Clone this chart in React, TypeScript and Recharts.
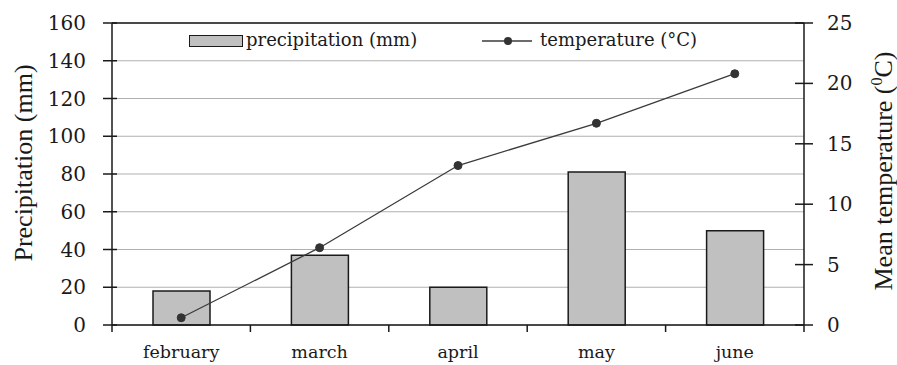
import React from "react";
import {
  ComposedChart,
  Bar,
  Line,
  XAxis,
  YAxis,
  CartesianGrid,
  ReferenceLine,
} from "recharts";

const months = ["february", "march", "april", "may", "june"];
const precipitation = [18, 37, 20, 81, 50];
const temperature = [0.6, 6.4, 13.2, 16.7, 20.8];
const precipTicks = [0, 20, 40, 60, 80, 100, 120, 140, 160];
const tempTicks = [0, 5, 10, 15, 20, 25];

const data = months.map((m, i) => ({
  month: m,
  precipitation: precipitation[i],
  temperature: temperature[i],
}));

const W = 897;
const H = 365;
const LEFT_W = 112;
const RIGHT_W = 93;
const TOP = 23;
const X_H = 40;
const PLOT_W = W - LEFT_W - RIGHT_W;

const ink = "#1a1a1a";
const tickFont = "'DejaVu Serif', serif";
const titleFont = "'Liberation Serif', 'Times New Roman', serif";

const LeftTick = (props: any) => {
  const { x, y, payload } = props;
  return (
    <g>
      <line x1={x - 9} x2={x + 5} y1={y} y2={y} stroke={ink} strokeWidth={1.5} />
      <text x={x - 26} y={y} textAnchor="end" dominantBaseline="central" fontFamily={tickFont} fontSize={20} fill={ink}>
        {payload.value}
      </text>
    </g>
  );
};

const RightTick = (props: any) => {
  const { x, y, payload } = props;
  return (
    <g>
      <line x1={x - 9} x2={x + 9} y1={y} y2={y} stroke={ink} strokeWidth={1.5} />
      <text x={x + 23} y={y} textAnchor="start" dominantBaseline="central" fontFamily={tickFont} fontSize={20} fill={ink}>
        {payload.value}
      </text>
    </g>
  );
};

const BottomTick = (props: any) => {
  const { x, y, payload, index } = props;
  const half = PLOT_W / months.length / 2;
  return (
    <g>
      <line x1={x - half} x2={x - half} y1={y} y2={y + 7} stroke={ink} strokeWidth={1.5} />
      {index === months.length - 1 && (
        <line x1={x + half} x2={x + half} y1={y} y2={y + 7} stroke={ink} strokeWidth={1.5} />
      )}
      <text x={x} y={y + 33} textAnchor="middle" fontFamily={tickFont} fontSize={17.5} fill={ink}>
        {payload.value}
      </text>
    </g>
  );
};

// legend sits inside the plot area, drawn as an overlay so it takes no room
const LegendBox = () => (
  <div style={{ position: "absolute", left: 0, top: 0, width: W, height: 60, fontFamily: tickFont, fontSize: 18, color: ink, pointerEvents: "none" }}>
    <div
      style={{
        position: "absolute",
        left: 189,
        top: 35,
        width: 52,
        height: 10,
        background: "#c0c0c0",
        border: `1.5px solid ${ink}`,
      }}
    />
    <div style={{ position: "absolute", left: 246, top: 28, lineHeight: "24px", whiteSpace: "nowrap" }}>
      precipitation (mm)
    </div>
    <svg style={{ position: "absolute", left: 480, top: 33 }} width={56} height={16}>
      <line x1={2} x2={52} y1={8} y2={8} stroke="#3a3a3a" strokeWidth={1.5} />
      <circle cx={28} cy={8} r={4} fill="#333" />
    </svg>
    <div style={{ position: "absolute", left: 540, top: 28, lineHeight: "24px", whiteSpace: "nowrap" }}>
      temperature (°C)
    </div>
  </div>
);

const LeftTitle = (props: any) => {
  const vb = props.viewBox;
  const cx = vb.x + 32;
  const cy = vb.y + vb.height / 2 - 11;
  return (
    <text x={cx} y={cy} transform={`rotate(-90 ${cx} ${cy})`} textAnchor="middle" fontFamily={titleFont} fontSize={26} fill={ink}>
      Precipitation (mm)
    </text>
  );
};

const RightTitle = (props: any) => {
  const vb = props.viewBox;
  const cx = vb.x + 88;
  const cy = vb.y + vb.height / 2 - 3;
  return (
    <text x={cx} y={cy} transform={`rotate(-90 ${cx} ${cy})`} textAnchor="middle" fontFamily={titleFont} fontSize={26} fill={ink}>
      Mean temperature (
      <tspan fontSize={16} dy={-10}>0</tspan>
      <tspan dy={10}>C)</tspan>
    </text>
  );
};

export default function App() {
  return (
    <div style={{ position: "absolute", left: 0, top: 0, width: W, height: H, background: "#fff" }}>
      <ComposedChart width={W} height={H} data={data} margin={{ top: TOP, right: 0, bottom: 0, left: 0 }}>
        <CartesianGrid yAxisId="left" vertical={false} stroke="#b0b0b0" strokeWidth={1.2} />
        <XAxis
          dataKey="month"
          height={X_H}
          tickSize={0}
          tickMargin={0}
          tickLine={false}
          tick={<BottomTick />}
          axisLine={{ stroke: ink, strokeWidth: 1.5 }}
          interval={0}
        />
        <YAxis
          yAxisId="left"
          orientation="left"
          width={LEFT_W}
          domain={[0, 160]}
          ticks={precipTicks}
          tickSize={0}
          tickMargin={0}
          tickLine={false}
          tick={<LeftTick />}
          axisLine={{ stroke: ink, strokeWidth: 1.5 }}
          label={{ content: <LeftTitle /> }}
        />
        <YAxis
          yAxisId="right"
          orientation="right"
          width={RIGHT_W}
          domain={[0, 25]}
          ticks={tempTicks}
          tickSize={0}
          tickMargin={0}
          tickLine={false}
          tick={<RightTick />}
          axisLine={{ stroke: ink, strokeWidth: 1.5 }}
          label={{ content: <RightTitle /> }}
        />
        <ReferenceLine yAxisId="left" y={160} stroke={ink} strokeWidth={1.5} />
        <Bar
          yAxisId="left"
          dataKey="precipitation"
          barSize={57}
          fill="#c0c0c0"
          stroke={ink}
          strokeWidth={1.5}
          isAnimationActive={false}
        />
        <Line
          yAxisId="right"
          dataKey="temperature"
          stroke="#3a3a3a"
          strokeWidth={1.3}
          dot={{ r: 4, fill: "#333", stroke: "#333", strokeWidth: 1 }}
          activeDot={false}
          isAnimationActive={false}
        />
      </ComposedChart>
      <LegendBox />
    </div>
  );
}
